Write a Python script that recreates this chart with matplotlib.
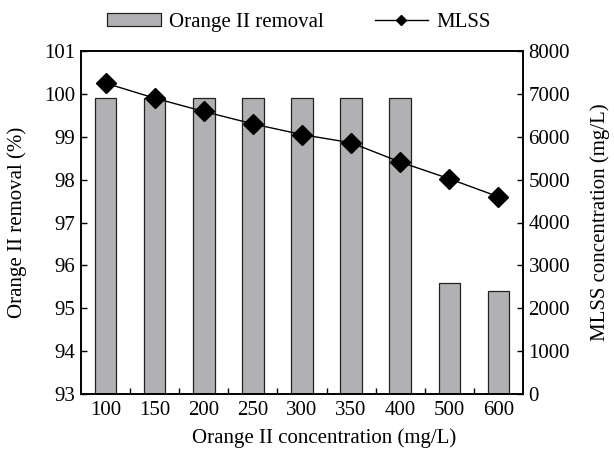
import matplotlib.pyplot as plt
import numpy as np

plt.rcParams["font.family"] = ["Liberation Serif", "DejaVu Serif"]
plt.rcParams["font.size"] = 15

# Data
concentrations = ["100", "150", "200", "250", "300", "350", "400", "500", "600"]
removal = [99.9, 99.9, 99.9, 99.9, 99.9, 99.9, 99.9, 95.6, 95.4]
mlss = [7250, 6900, 6590, 6300, 6050, 5860, 5410, 5020, 4600]

x = np.arange(len(concentrations))

fig = plt.figure(figsize=(6.14, 4.49), dpi=100)
ax = fig.add_axes([81 / 614, 1 - 394 / 449, 442 / 614, 343 / 449])

bars = ax.bar(x, np.array(removal) - 93, bottom=93, width=0.44,
              color="#b1b1b4", edgecolor="#222222", linewidth=0.9,
              label="Orange II removal")
ax.set_xlim(-0.5, len(x) - 0.5)
ax.set_ylim(93, 101)
ax.set_yticks(range(93, 102))
ax.set_xticks(x)
ax.set_xticklabels(concentrations)
ax.set_xticks(np.arange(0.5, len(x) - 1, 1), minor=True)
ax.tick_params(axis="x", which="major", length=0, pad=5)
ax.tick_params(axis="x", which="minor", direction="in", length=4, width=1)
ax.tick_params(axis="y", direction="in", length=4, width=1, pad=4)
ax.set_ylabel("Orange II removal (%)")
ax.set_xlabel("Orange II concentration (mg/L)")
ax.yaxis.set_label_coords(-0.122, 0.5)
ax.xaxis.set_label_coords(0.55, -0.1)

ax2 = ax.twinx()
line, = ax2.plot(x, mlss, color="black", linewidth=1, marker="D",
                 markersize=10, label="MLSS")
ax2.set_ylim(0, 8000)
ax2.set_yticks(range(0, 8001, 1000))
ax2.tick_params(axis="y", direction="in", length=4, width=1, pad=4)
ax2.set_ylabel("MLSS concentration (mg/L)")
ax2.yaxis.set_label_coords(1.153, 0.5)

for a in (ax, ax2):
    for s in a.spines.values():
        s.set_linewidth(1.2)

fig.legend(handles=[bars, line], labels=["Orange II removal", "MLSS"],
           loc="center", bbox_to_anchor=(0.487, 0.951), ncol=2, frameon=False,
           handlelength=2.55, handleheight=0.58, columnspacing=2.45,
           handletextpad=0.4, markerscale=0.55)

fig.savefig("out.png", dpi=100)
